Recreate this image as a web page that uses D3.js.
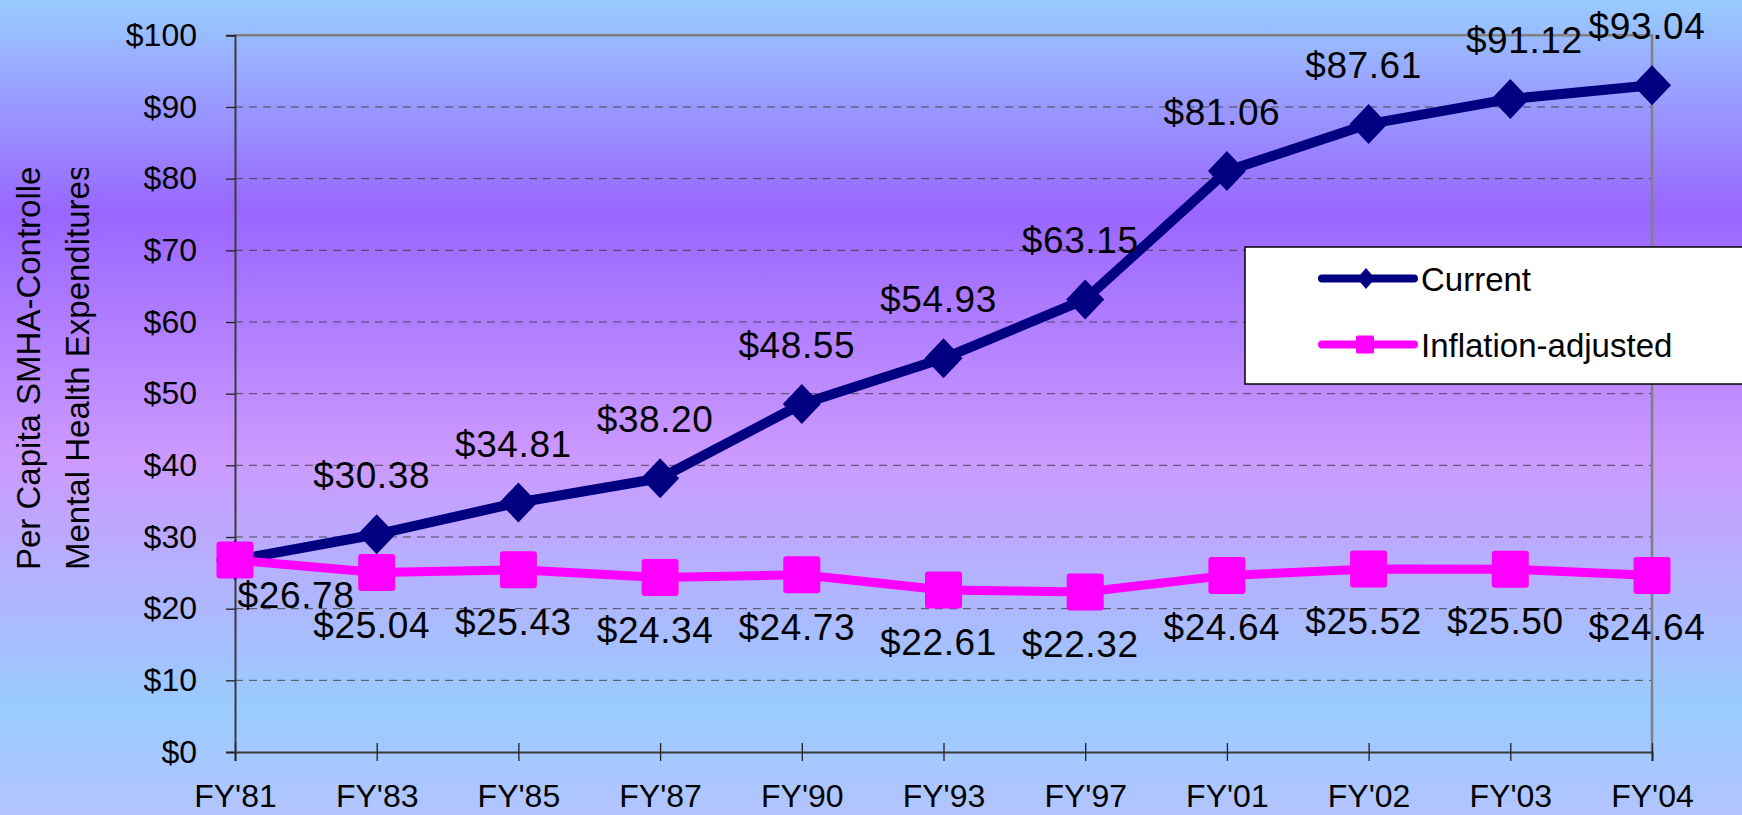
<!DOCTYPE html>
<html>
<head>
<meta charset="utf-8">
<script src="https://cdn.jsdelivr.net/npm/d3@7"></script>
<style>
  html, body { margin: 0; padding: 0; overflow: hidden; }
  svg { display: block; }
  text { font-family: "Liberation Sans", Arial, Helvetica, sans-serif; fill: #000; }
</style>
</head>
<body>
<svg id="chart" width="1742" height="815"></svg>
<script>
// ---------- data ----------
const categories = ["FY'81", "FY'83", "FY'85", "FY'87", "FY'90", "FY'93", "FY'97", "FY'01", "FY'02", "FY'03", "FY'04"];
const currentValues = [26.78, 30.38, 34.81, 38.20, 48.55, 54.93, 63.15, 81.06, 87.61, 91.12, 93.04];
const inflationValues = [26.78, 25.04, 25.43, 24.34, 24.73, 22.61, 22.32, 24.64, 25.52, 25.50, 24.64];
const seriesNames = ["Current", "Inflation-adjusted"];
const yTickValues = [0, 10, 20, 30, 40, 50, 60, 70, 80, 90, 100];
const yTitleLines = ["Per Capita SMHA-Controlled", "Mental Health Expenditures"];

// ---------- layout ----------
const W = 1742, H = 815;
const plot = { left: 235, right: 1652, top: 35.3, bottom: 752 };
const navy = "#000080", magenta = "#FF00FF";

const svg = d3.select("#chart");

// background gradient
const defs = svg.append("defs");
const grad = defs.append("linearGradient").attr("id", "bg")
  .attr("x1", 0).attr("y1", 0).attr("x2", 0).attr("y2", 1);
[[0, "#99CCFF"], [0.26, "#9966FF"], [0.56, "#CC99FF"], [0.87, "#99CCFF"], [1, "#B3C4FF"]]
  .forEach(([o, c]) => grad.append("stop").attr("offset", o).attr("stop-color", c));
svg.append("rect").attr("width", W).attr("height", H).attr("fill", "url(#bg)");

const x = d3.scalePoint().domain(categories).range([plot.left, plot.right]).padding(0);
const y = d3.scaleLinear().domain([0, 100]).range([plot.bottom, plot.top]);

// gridlines
svg.append("g").selectAll("line")
  .data(yTickValues.filter(v => v > 0 && v < 100))
  .join("line")
  .attr("x1", plot.left).attr("x2", plot.right)
  .attr("y1", d => y(d)).attr("y2", d => y(d))
  .attr("stroke", "#3a3a3a").attr("stroke-width", 1)
  .attr("stroke-dasharray", "8,6").attr("opacity", 0.85);

// plot border (top/right gray)
svg.append("path")
  .attr("d", `M${plot.left},${y(100)}H${plot.right}V${y(0)}`)
  .attr("fill", "none").attr("stroke", "#808080").attr("stroke-width", 2.5);

// y axis
const yAxis = svg.append("g").attr("transform", `translate(${plot.left},0)`)
  .call(d3.axisLeft(y).tickValues(yTickValues).tickSize(9).tickPadding(29).tickFormat(d => "$" + d));
yAxis.select(".domain").attr("stroke", "#3a3a3a").attr("stroke-width", 2);
yAxis.selectAll(".tick line").attr("stroke", "#222").attr("stroke-width", 1.3);
yAxis.selectAll(".tick text").style("font-size", "32px").attr("fill", "#000")
  .style("font-family", "'Liberation Sans', Arial, sans-serif");

// x axis
const xAxis = svg.append("g").attr("transform", `translate(0,${plot.bottom})`)
  .call(d3.axisBottom(x).tickSize(9).tickPadding(0));
xAxis.select(".domain").attr("stroke", "#3a3a3a").attr("stroke-width", 2);
xAxis.selectAll(".tick line").attr("y1", -9).attr("y2", 9).attr("stroke", "#222").attr("stroke-width", 1.3);
xAxis.selectAll(".tick text").attr("y", 55).attr("dy", 0)
  .style("font-size", "32px").attr("fill", "#000")
  .style("font-family", "'Liberation Sans', Arial, sans-serif");

// y axis title (clipped like the original)
defs.append("clipPath").attr("id", "titleClip")
  .append("rect").attr("x", 0).attr("y", 168).attr("width", 110).attr("height", 500);
const tg = svg.append("g").attr("clip-path", "url(#titleClip)");
const titleBaselines = [40, 89];
yTitleLines.forEach((t, i) => {
  tg.append("text")
    .attr("transform", `translate(${titleBaselines[i]},570) rotate(-90)`)
    .attr("text-anchor", "start")
    .style("font-size", "33px")
    .text(t);
});

// lines
const line = d3.line().x((d, i) => x(categories[i])).y(d => y(d));

svg.append("path").datum(currentValues).attr("d", line)
  .attr("fill", "none").attr("stroke", navy).attr("stroke-width", 10).attr("stroke-linejoin", "round");
svg.append("g").selectAll("path").data(currentValues).join("path")
  .attr("d", (d, i) => {
    const cx = x(categories[i]), cy = y(d);
    return `M${cx},${cy - 20}L${cx + 19},${cy}L${cx},${cy + 20}L${cx - 19},${cy}Z`;
  })
  .attr("fill", navy);

svg.append("path").datum(inflationValues).attr("d", line)
  .attr("fill", "none").attr("stroke", magenta).attr("stroke-width", 9).attr("stroke-linejoin", "round");
svg.append("g").selectAll("rect").data(inflationValues).join("rect")
  .attr("x", (d, i) => x(categories[i]) - 18.5).attr("y", d => y(d) - 18.5)
  .attr("width", 37).attr("height", 37).attr("rx", 3).attr("fill", magenta);

// data labels
const fmt = d => "$" + d.toFixed(2);
const labelDx = -5;
const currentNudge = { 9: [19, 0] };
const inflationNudge = { 0: [66, -17] };

svg.append("g").selectAll("text").data(currentValues).join("text")
  .filter((d, i) => i > 0)
  .attr("x", (d, i) => x(categories[i + 1]) + labelDx + ((currentNudge[i + 1] || [0, 0])[0]))
  .attr("y", (d, i) => y(d) - 46 + ((currentNudge[i + 1] || [0, 0])[1]))
  .attr("text-anchor", "middle").style("font-size", "37px").style("letter-spacing", "0.6px")
  .text(fmt);

svg.append("g").selectAll("text").data(inflationValues).join("text")
  .attr("x", (d, i) => x(categories[i]) + labelDx + ((inflationNudge[i] || [0, 0])[0]))
  .attr("y", (d, i) => y(d) + 65 + ((inflationNudge[i] || [0, 0])[1]))
  .attr("text-anchor", "middle").style("font-size", "37px").style("letter-spacing", "0.6px")
  .text(fmt);

// legend
const lg = svg.append("g");
lg.append("rect").attr("x", 1245).attr("y", 247).attr("width", 520).attr("height", 137)
  .attr("fill", "#fff").attr("stroke", "#000").attr("stroke-width", 1.5);
const legY = [278.5, 344.5];
const legColors = [navy, magenta];
seriesNames.forEach((name, i) => {
  lg.append("line").attr("x1", 1322).attr("x2", 1414).attr("y1", legY[i]).attr("y2", legY[i])
    .attr("stroke", legColors[i]).attr("stroke-width", 8).attr("stroke-linecap", "round");
  if (i === 0) {
    lg.append("path").attr("d", `M1366,${legY[i] - 10.5}L1375,${legY[i]}L1366,${legY[i] + 10.5}L1357,${legY[i]}Z`)
      .attr("fill", navy);
  } else {
    lg.append("rect").attr("x", 1356).attr("y", legY[i] - 9).attr("width", 18).attr("height", 18)
      .attr("rx", 1.5).attr("fill", magenta);
  }
  lg.append("text").attr("x", 1421).attr("y", legY[i] + 12.5)
    .style("font-size", "33px").text(name);
});
</script>
</body>
</html>
